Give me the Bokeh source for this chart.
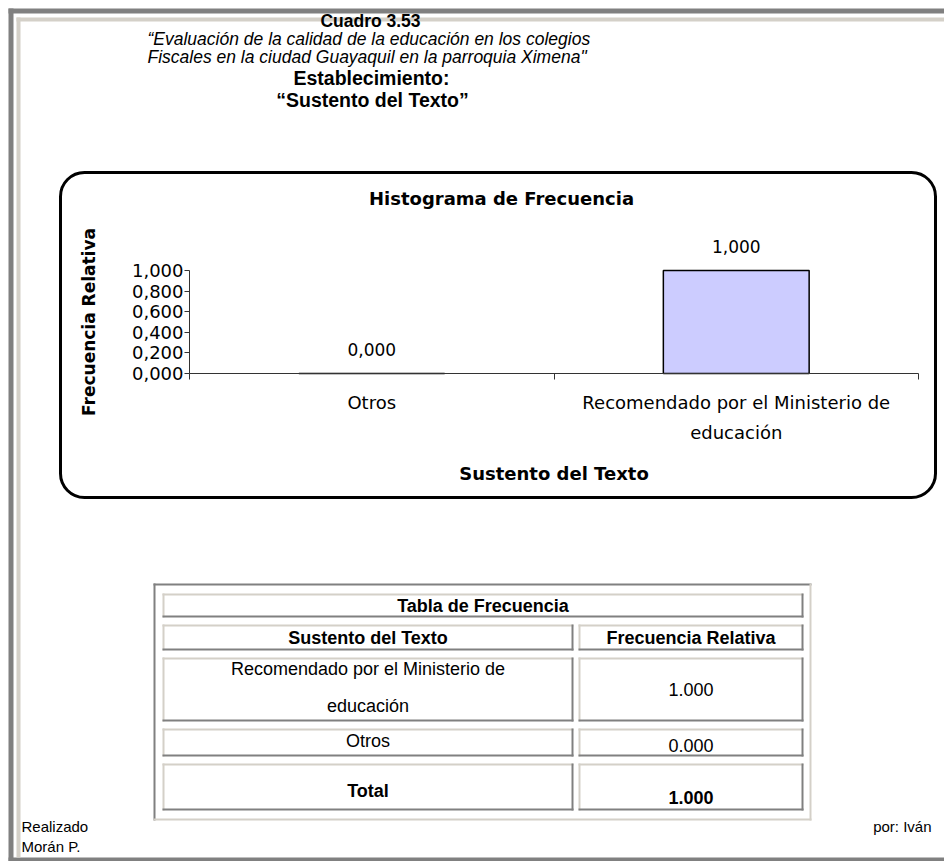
import math
import textwrap
from bokeh.plotting import figure
from bokeh.models import (Range1d, LinearAxis, FixedTicker, Label, BoxAnnotation,
                          ColumnDataSource)
from bokeh.embed import file_html
from bokeh.resources import INLINE
from bokeh.core.properties import value

# ---------------- data ----------------
categories = ["Otros", "Recomendado por el Ministerio de educación"]
rel_freq = [0.000, 1.000]
y_ticks = [0.0, 0.2, 0.4, 0.6, 0.8, 1.0]
y_tick_labels = ["0,000", "0,200", "0,400", "0,600", "0,800", "1,000"]

table_title = "Tabla de Frecuencia"
table_headers = ["Sustento del Texto", "Frecuencia Relativa"]
table_rows = ["Recomendado por el Ministerio de educación", "Otros"]
table_values = [1.000, 0.000]
table_total_label = "Total"
table_total_value = 1.000

page_title = "Cuadro 3.53"
page_subtitle = ["\u201cEvaluación de la calidad de la educación en los colegios",
                 "Fiscales en la ciudad Guayaquil en la parroquia Ximena\""]
page_heading = ["Establecimiento:", "\u201cSustento del Texto\u201d"]
chart_title = "Histograma de Frecuencia"
x_title = "Sustento del Texto"
y_title = "Frecuencia Relativa"
footer_left = ["Realizado", "Morán P."]
footer_right = "por: Iván"

# ---------------- styling / geometry ----------------
W, H = 944, 861
HTML_FONT = "Liberation Sans"
CHART_FONT = "DejaVu Sans"
DARK = "#808080"
LIGHT = "#d4d0c8"
BAR_FILL = "#ccccff"
AXIS_COLOR = "#333333"

# plot area of the histogram, in page pixels
F_LEFT, F_RIGHT = 189, 918
Y0_PX, Y1_PX = 373, 270
n_cat = len(categories)
PX_U = (F_RIGHT - F_LEFT) / n_cat
PX_V = Y0_PX - Y1_PX


def ux(px):
    return (px - F_LEFT) / PX_U


def vy(py):
    return (Y0_PX - py) / PX_V


p = figure(width=W, height=H,
           x_range=Range1d(ux(0), ux(W)),
           y_range=Range1d(vy(H), vy(0)),
           output_backend="svg", toolbar_location=None,
           x_axis_location=None, y_axis_location=None, min_border=0,
           outline_line_color=None, background_fill_color="white",
           border_fill_color="white")
p.title.visible = False
p.grid.visible = False

# y axis (crossing at the left edge of the histogram)
ya = LinearAxis(fixed_location=0, bounds=(0, 1), ticker=FixedTicker(ticks=y_ticks),
                axis_line_color=AXIS_COLOR, major_tick_line_color=AXIS_COLOR,
                major_tick_in=0, major_tick_out=5, minor_tick_line_color=None,
                major_label_standoff=1, major_label_text_font=CHART_FONT,
                major_label_text_font_size="18px", major_label_text_color="black")
ya.major_label_overrides = {t: s for t, s in zip(y_ticks, y_tick_labels)}
p.add_layout(ya, "left")

# x axis: tick marks on category boundaries
xa = LinearAxis(fixed_location=0, bounds=(0, n_cat),
                ticker=FixedTicker(ticks=list(range(n_cat + 1))),
                axis_line_color=AXIS_COLOR, major_tick_line_color=AXIS_COLOR,
                major_tick_in=0, major_tick_out=6, minor_tick_line_color=None,
                major_label_text_font_size="0px", major_label_standoff=0)
xa.major_label_overrides = {i: "" for i in range(n_cat + 1)}
p.add_layout(xa, "below")

# bars, value labels and category labels
xpos = [i + 0.5 for i in range(n_cat)]
src = ColumnDataSource(dict(x=xpos, val=rel_freq,
                            lbl=[f"{v:.3f}".replace(".", ",") for v in rel_freq],
                            cat=[textwrap.fill(c, 32) for c in categories],
                            zero=[0.0] * n_cat))
p.vbar(x="x", top="val", bottom=0, width=0.4, source=src,
       fill_color=BAR_FILL, line_color="black", line_width=1.5)
p.text(x="x", y="val", text="lbl", source=src, y_offset=-24,
       text_align="center", text_baseline="middle",
       text_font=value(CHART_FONT), text_font_size="17px", text_color="black")
p.text(x="x", y="zero", text="cat", source=src, y_offset=18,
       text_align="center", text_baseline="top", text_line_height=1.45,
       text_font=value(CHART_FONT), text_font_size="18px", text_color="black")


# ---------------- page decorations ----------------
def box(l, t, r, b, color):
    p.add_layout(BoxAnnotation(left=ux(l), right=ux(r), top=vy(t), bottom=vy(b),
                               fill_color=color, fill_alpha=1.0, line_color=None))


def lab(text, x, y, size, style="normal", align="center", font=HTML_FONT, angle=0.0):
    p.add_layout(Label(x=ux(x), y=vy(y), text=text, text_font=font,
                       text_font_size=f"{size}px", text_font_style=style,
                       text_align=align, text_baseline="middle",
                       text_color="black", angle=angle))


# outer page frame
box(8, 8, 944, 13, DARK)
box(8, 8, 13, 861, DARK)
box(8, 857, 944, 861, DARK)
box(16, 17, 944, 21, LIGHT)
box(16, 17, 20, 857, LIGHT)

# page headings
lab(page_title, 370, 20, 17.5, "bold")
lab(page_subtitle[0], 147, 38, 17.5, "italic", "left")
lab(page_subtitle[1], 147, 56, 17.5, "italic", "left")
lab(page_heading[0], 371, 77, 19.5, "bold")
lab(page_heading[1], 372, 99, 19.5, "bold")

# rounded chart area and chart titles
p.add_layout(BoxAnnotation(left=ux(60), right=ux(935), top=vy(172), bottom=vy(497),
                           fill_color=None, fill_alpha=0, line_color="black",
                           line_alpha=1.0, line_width=3, border_radius=24))
lab(chart_title, 501, 198, 18, "bold", font=CHART_FONT)
lab(x_title, (F_LEFT + F_RIGHT) / 2, 473, 18, "bold", font=CHART_FONT)
lab(y_title, 88, (Y0_PX + Y1_PX) / 2, 17, "bold", font=CHART_FONT, angle=math.pi / 2)


# frequency table
def cell(l, t, r, b):
    box(l, t, r, t + 2, LIGHT)
    box(l, t, l + 2, b, LIGHT)
    box(l, b - 2, r, b, DARK)
    box(r - 2, t, r, b, DARK)


box(153, 583, 811, 585, DARK)
box(153, 583, 155, 820, DARK)
box(153, 818, 811, 820, LIGHT)
box(809, 583, 811, 820, LIGHT)

CL = (162, 573)
CR = (578, 803)
rows_y = [(624, 650), (657, 721), (728, 756), (763, 810)]
cell(CL[0], 593, CR[1], 617)
for (t, b) in rows_y:
    cell(CL[0], t, CL[1], b)
    cell(CR[0], t, CR[1], b)

xl = (CL[0] + CL[1]) / 2
xr = (CR[0] + CR[1]) / 2
TS = 18
lab(table_title, (CL[0] + CR[1]) / 2, 605, TS, "bold")
lab(table_headers[0], xl, 637, TS, "bold")
lab(table_headers[1], xr, 637, TS, "bold")
lines = textwrap.fill(table_rows[0], 32).split("\n")
lab(lines[0], xl, 668, TS)
lab(lines[1], xl, 705, TS)
lab(f"{table_values[0]:.3f}", xr, 689, TS)
lab(table_rows[1], xl, 740, TS)
lab(f"{table_values[1]:.3f}", xr, 745, TS)
lab(table_total_label, xl, 790, TS, "bold")
lab(f"{table_total_value:.3f}", xr, 797, TS, "bold")

# footer
lab(footer_left[0], 21, 826, 15, align="left")
lab(footer_left[1], 21, 846, 15, align="left")
lab(footer_right, 931, 826, 15, align="right")

open("out.html", "w").write(file_html(p, INLINE))
